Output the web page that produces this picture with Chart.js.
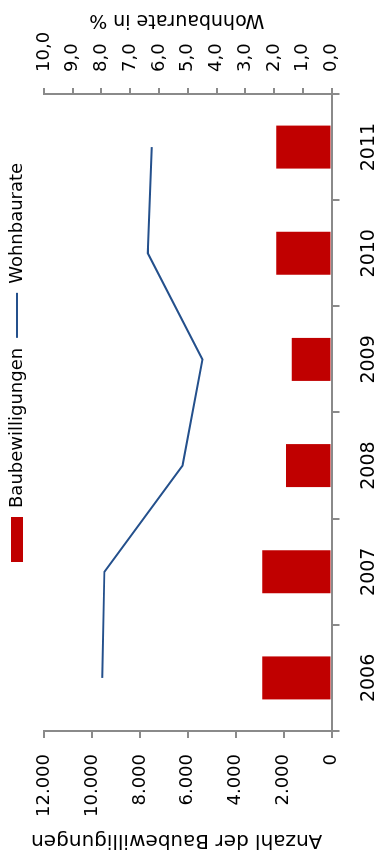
<!DOCTYPE html>
<html lang="de">
<head>
    <meta charset="UTF-8">
    <title>Baubewilligungen und Wohnbaurate</title>
    <style>
        html, body { margin: 0; padding: 0; background: #fff; overflow: hidden; }
        /* chart is drawn landscape and turned a quarter turn to the left */
        #wrap {
            position: absolute; left: 0; top: 0;
            width: 865px; height: 379px;
            transform-origin: 0 0;
            transform: translate(0, 865px) rotate(-90deg);
        }
    </style>
</head>
<body>
    <div id="wrap">
        <canvas id="chart" width="865" height="379"></canvas>
    </div>

    <script src="https://cdn.jsdelivr.net/npm/chart.js"></script>
    <script>
        const years = ['2006', '2007', '2008', '2009', '2010', '2011'];
        const baubewilligungen = [2890, 2890, 1900, 1660, 2310, 2310];
        const wohnbaurate = [7.97, 7.90, 5.18, 4.49, 6.39, 6.25];
        const countTicks = { min: 0, max: 12000, step: 2000 };
        const rateTicks = { min: 0, max: 10, step: 1 };

        const axisColor = '#8a8a8a';
        const font = 'DejaVu Sans';

        // axis titles are drawn by hand so both read bottom-to-top
        const titles = {
            id: 'titles',
            afterDraw(chart) {
                const ctx = chart.ctx;
                const mid = (chart.chartArea.top + chart.chartArea.bottom) / 2 - 11;
                ctx.save();
                ctx.fillStyle = '#000';
                ctx.textAlign = 'center';
                ctx.textBaseline = 'middle';
                [['Anzahl der Baubewilligungen', chart.scales.y.left + 25, 20],
                 ['Wohnbaurate in %', chart.scales.y2.right - 20, 19]].forEach(([t, x, size]) => {
                    ctx.save();
                    ctx.font = size + 'px "' + font + '"';
                    ctx.translate(x, mid);
                    ctx.rotate(-Math.PI / 2);
                    ctx.fillText(t, 0, 0);
                    ctx.restore();
                });
                ctx.restore();
            }
        };

        // move the legend to where it sits in the original
        const legendShift = {
            id: 'legendShift',
            afterLayout(chart) {
                const lg = chart.legend;
                const start = (lg.left + 10 + lg.right - lg.lineWidths[0]) / 2;
                const dx = 303 - start;
                lg.left += dx; lg.right += dx;
                lg.top -= 8; lg.bottom -= 8;
            }
        };

        const dot = v => String(v).replace(/\B(?=(\d{3})+(?!\d))/g, '.');

        new Chart(document.getElementById('chart'), {
            data: {
                labels: years,
                datasets: [{
                    type: 'line',
                    label: 'Wohnbaurate',
                    data: wohnbaurate,
                    yAxisID: 'y2',
                    borderColor: '#24508c',
                    backgroundColor: '#24508c',
                    borderWidth: 2,
                    pointRadius: 0,
                    pointStyle: 'line',
                    tension: 0,
                    order: 0
                }, {
                    type: 'bar',
                    label: 'Baubewilligungen',
                    data: baubewilligungen,
                    yAxisID: 'y',
                    backgroundColor: '#c00000',
                    borderWidth: 0,
                    pointStyle: 'rect',
                    barPercentage: 0.405,
                    categoryPercentage: 1,
                    order: 1
                }]
            },
            options: {
                responsive: false,
                animation: false,
                layout: { padding: { top: 6, left: 0, right: 0, bottom: 0 } },
                plugins: {
                    legend: {
                        position: 'top',
                        reverse: true,
                        labels: {
                            usePointStyle: true,
                            pointStyleWidth: 45,
                            boxHeight: 12,
                            padding: 10,
                            color: '#000',
                            font: { family: font, size: 18 }
                        }
                    },
                    tooltip: { enabled: false }
                },
                scales: {
                    x: {
                        type: 'category',
                        offset: true,
                        grid: { offset: true, drawOnChartArea: false, tickLength: 8, color: axisColor, lineWidth: 2 },
                        border: { display: true, color: axisColor, width: 2 },
                        ticks: { color: '#000', padding: 18, font: { family: font, size: 19 } },
                        afterFit(s) { s.height = 47.5; }
                    },
                    y: {
                        position: 'left',
                        min: countTicks.min,
                        max: countTicks.max,
                        grid: { drawOnChartArea: false, tickLength: 7, color: axisColor, lineWidth: 2 },
                        border: { display: true, color: axisColor, width: 2 },
                        ticks: {
                            stepSize: countTicks.step,
                            padding: 16,
                            color: '#000',
                            font: { family: font, size: 18 },
                            callback: v => dot(v)
                        },
                        afterFit(s) { s.width = 134; }
                    },
                    y2: {
                        position: 'right',
                        min: rateTicks.min,
                        max: rateTicks.max,
                        grid: { drawOnChartArea: false, tickLength: 6, color: axisColor, lineWidth: 2 },
                        border: { display: true, color: axisColor, width: 2 },
                        ticks: {
                            stepSize: rateTicks.step,
                            padding: 16,
                            color: '#000',
                            font: { family: font, size: 18 },
                            callback: v => v.toFixed(1).replace('.', ',')
                        },
                        afterFit(s) { s.width = 94; }
                    }
                }
            },
            plugins: [titles, legendShift]
        });
    </script>
</body>
</html>
